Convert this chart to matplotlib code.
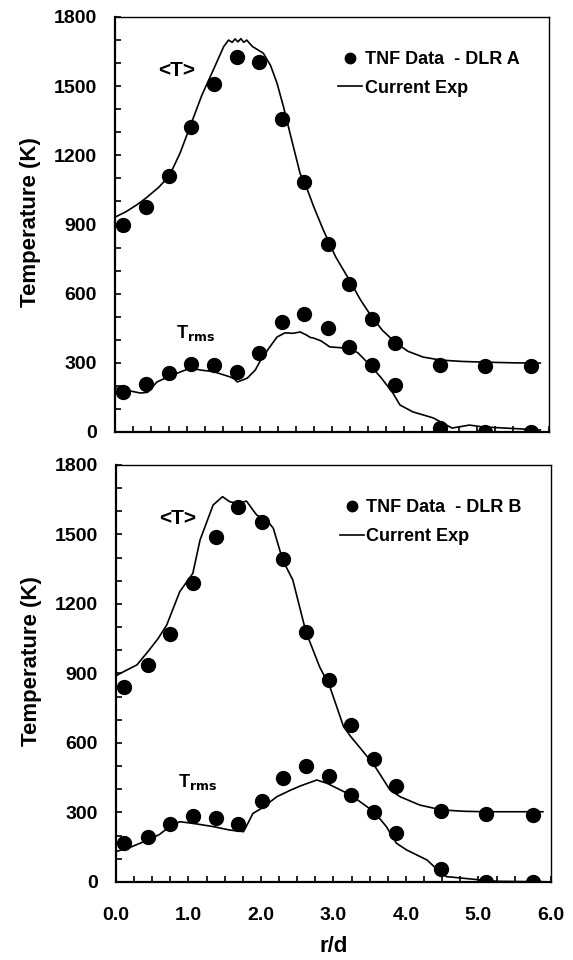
import matplotlib
matplotlib.use("Agg")
import matplotlib.pyplot as plt
from matplotlib.ticker import MultipleLocator, FormatStrFormatter

plt.rcParams["font.family"] = ["Liberation Sans", "DejaVu Sans"]
plt.rcParams["font.weight"] = "bold"

# ---- DLR A (top panel) ----
a_pts_r = [0.11, 0.43, 0.75, 1.05, 1.37, 1.69, 1.99, 2.31, 2.61, 2.94, 3.24, 3.55, 3.87, 4.50, 5.11, 5.75]
a_pts_T = [898, 976, 1110, 1322, 1509, 1626, 1605, 1357, 1084, 814, 640, 489, 387, 292, 288, 288]
a_pts_rms = [175, 208, 254, 293, 290, 262, 341, 475, 512, 450, 367, 292, 202, 17, 0, 0]

a_line_r = [0.0, 0.15, 0.30, 0.43, 0.60, 0.75, 0.90, 1.05, 1.20, 1.37, 1.50, 1.57, 1.62, 1.66, 1.70, 1.74, 1.78,
            1.82, 1.90, 2.05, 2.15, 2.24, 2.33, 2.42, 2.56, 2.61, 2.75, 2.88, 3.05, 3.24, 3.40, 3.55, 3.70,
            3.87, 4.05, 4.26, 4.50, 4.80, 5.11, 5.50, 5.88]
a_line_T = [932, 955, 985, 1015, 1060, 1110, 1210, 1335, 1460, 1578, 1670, 1700, 1690, 1705, 1692, 1706, 1690,
            1700, 1672, 1643, 1590, 1513, 1410, 1295, 1120, 1093, 975, 876, 760, 659, 570, 499, 440,
            390, 350, 325, 312, 306, 303, 300, 299]
a_line_rms_r = [0.0, 0.18, 0.35, 0.45, 0.58, 0.74, 0.90, 1.04, 1.20, 1.36, 1.48, 1.59, 1.65, 1.69, 1.76, 1.83, 1.94,
                2.00, 2.12, 2.24, 2.35, 2.46, 2.56, 2.65, 2.70, 2.74, 2.85, 2.97, 3.10, 3.24, 3.36, 3.55, 3.68,
                3.84, 3.94, 4.12, 4.40, 4.66, 4.90, 5.09, 5.88]
a_line_rms = [191, 180, 169, 172, 217, 240, 260, 277, 268, 262, 250, 239, 230, 217, 225, 234, 269,
              304, 360, 412, 430, 428, 434, 420, 410, 408, 395, 369, 366, 364, 343, 282, 235,
              170, 117, 87, 61, 17, 30, 22, 9]

# ---- DLR B (bottom panel) ----
b_pts_r = [0.11, 0.44, 0.74, 1.06, 1.38, 1.69, 2.01, 2.31, 2.62, 2.94, 3.24, 3.56, 3.87, 4.49, 5.11, 5.75]
b_pts_T = [843, 937, 1069, 1289, 1488, 1617, 1555, 1393, 1080, 872, 678, 531, 416, 308, 292, 289]
b_pts_rms = [167, 193, 250, 285, 275, 250, 351, 447, 501, 458, 375, 301, 210, 55, 1, 1]

b_line_r = [0.0, 0.12, 0.29, 0.44, 0.58, 0.70, 0.88, 1.06, 1.16, 1.34, 1.47, 1.57, 1.69, 1.80, 1.94, 2.08,
            2.17, 2.30, 2.44, 2.62, 2.81, 2.95, 3.14, 3.24, 3.37, 3.56, 3.78, 3.92, 4.19, 4.49, 4.80, 5.11,
            5.50, 5.89]
b_line_T = [890, 910, 937, 994, 1050, 1109, 1253, 1332, 1476, 1627, 1663, 1641, 1634, 1644, 1584, 1562,
            1527, 1390, 1303, 1080, 928, 843, 670, 627, 578, 505, 397, 368, 332, 311, 305, 303,
            303, 303]
b_line_rms_r = [0.0, 0.20, 0.44, 0.60, 0.74, 0.88, 1.06, 1.34, 1.57, 1.76, 1.89, 2.01, 2.22, 2.40, 2.54,
                2.77, 2.91, 3.24, 3.56, 3.73, 3.87, 4.01, 4.29, 4.49, 4.56, 5.02, 5.25, 5.75, 5.88]
b_line_rms = [131, 150, 181, 205, 239, 260, 253, 239, 224, 217, 296, 318, 368, 395, 414,
              440, 426, 375, 303, 239, 167, 138, 95, 37, 23, 9, 3, 1, 1]

panels = [
    ([0.2007, 0.55, 0.7574, 0.4323], "TNF Data  - DLR A", 0.506,
     a_pts_r, a_pts_T, a_pts_rms, a_line_r, a_line_T, a_line_rms_r, a_line_rms, False),
    ([0.2024, 0.0813, 0.759, 0.4344], "TNF Data  - DLR B", 0.53,
     b_pts_r, b_pts_T, b_pts_rms, b_line_r, b_line_T, b_line_rms_r, b_line_rms, True),
]

fig = plt.figure(figsize=(5.73, 9.6), dpi=100)

for rect, data_label, ylab_y, pr, pT, prms, lr, lT, lrr, lrms, show_x in panels:
    ax = fig.add_axes(rect)
    ax.plot(pr, pT, "o", color="black", markersize=10, label=data_label, zorder=3)
    ax.plot(lr, lT, "-", color="black", linewidth=1.2, label="Current Exp")
    ax.plot(pr, prms, "o", color="black", markersize=10, zorder=3)
    ax.plot(lrr, lrms, "-", color="black", linewidth=1.2)

    ax.set_xlim(0, 6)
    ax.set_ylim(0, 1800)
    ax.xaxis.set_major_locator(MultipleLocator(1))
    ax.xaxis.set_minor_locator(MultipleLocator(0.25))
    ax.yaxis.set_major_locator(MultipleLocator(300))
    ax.yaxis.set_minor_locator(MultipleLocator(100))
    ax.tick_params(which="both", direction="in", length=4, width=1.2, top=False, right=False)
    ax.tick_params(axis="y", pad=13, labelsize=14)
    ax.tick_params(axis="x", pad=18, labelsize=14)
    if show_x:
        ax.xaxis.set_major_formatter(FormatStrFormatter("%.1f"))
        ax.set_xlabel("r/d", fontsize=16, fontweight="bold")
        ax.xaxis.set_label_coords(0.5, -0.13)
    else:
        ax.set_xticklabels([])

    for side in ["left", "bottom"]:
        ax.spines[side].set_linewidth(1.6)
    for side in ["top", "right"]:
        ax.spines[side].set_linewidth(1.0)

    ax.set_ylabel("Temperature (K)", fontsize=16, fontweight="bold")
    ax.yaxis.set_label_coords(-0.17, ylab_y)

    ax.text(0.85, 1570, "<T>", fontsize=15, fontweight="bold", ha="center", va="center")
    ax.text(0.85, 430, "T$_{\\mathbf{rms}}$", fontsize=13, fontweight="bold", ha="left", va="center")

    ax.legend(loc="upper left", bbox_to_anchor=(0.514, 0.918), frameon=False,
              markerscale=0.75, handlelength=1.33, handletextpad=0.15, labelspacing=0.65,
              borderpad=0, borderaxespad=0, prop={"weight": "bold", "size": 13})

fig.savefig("out.png", dpi=100)
